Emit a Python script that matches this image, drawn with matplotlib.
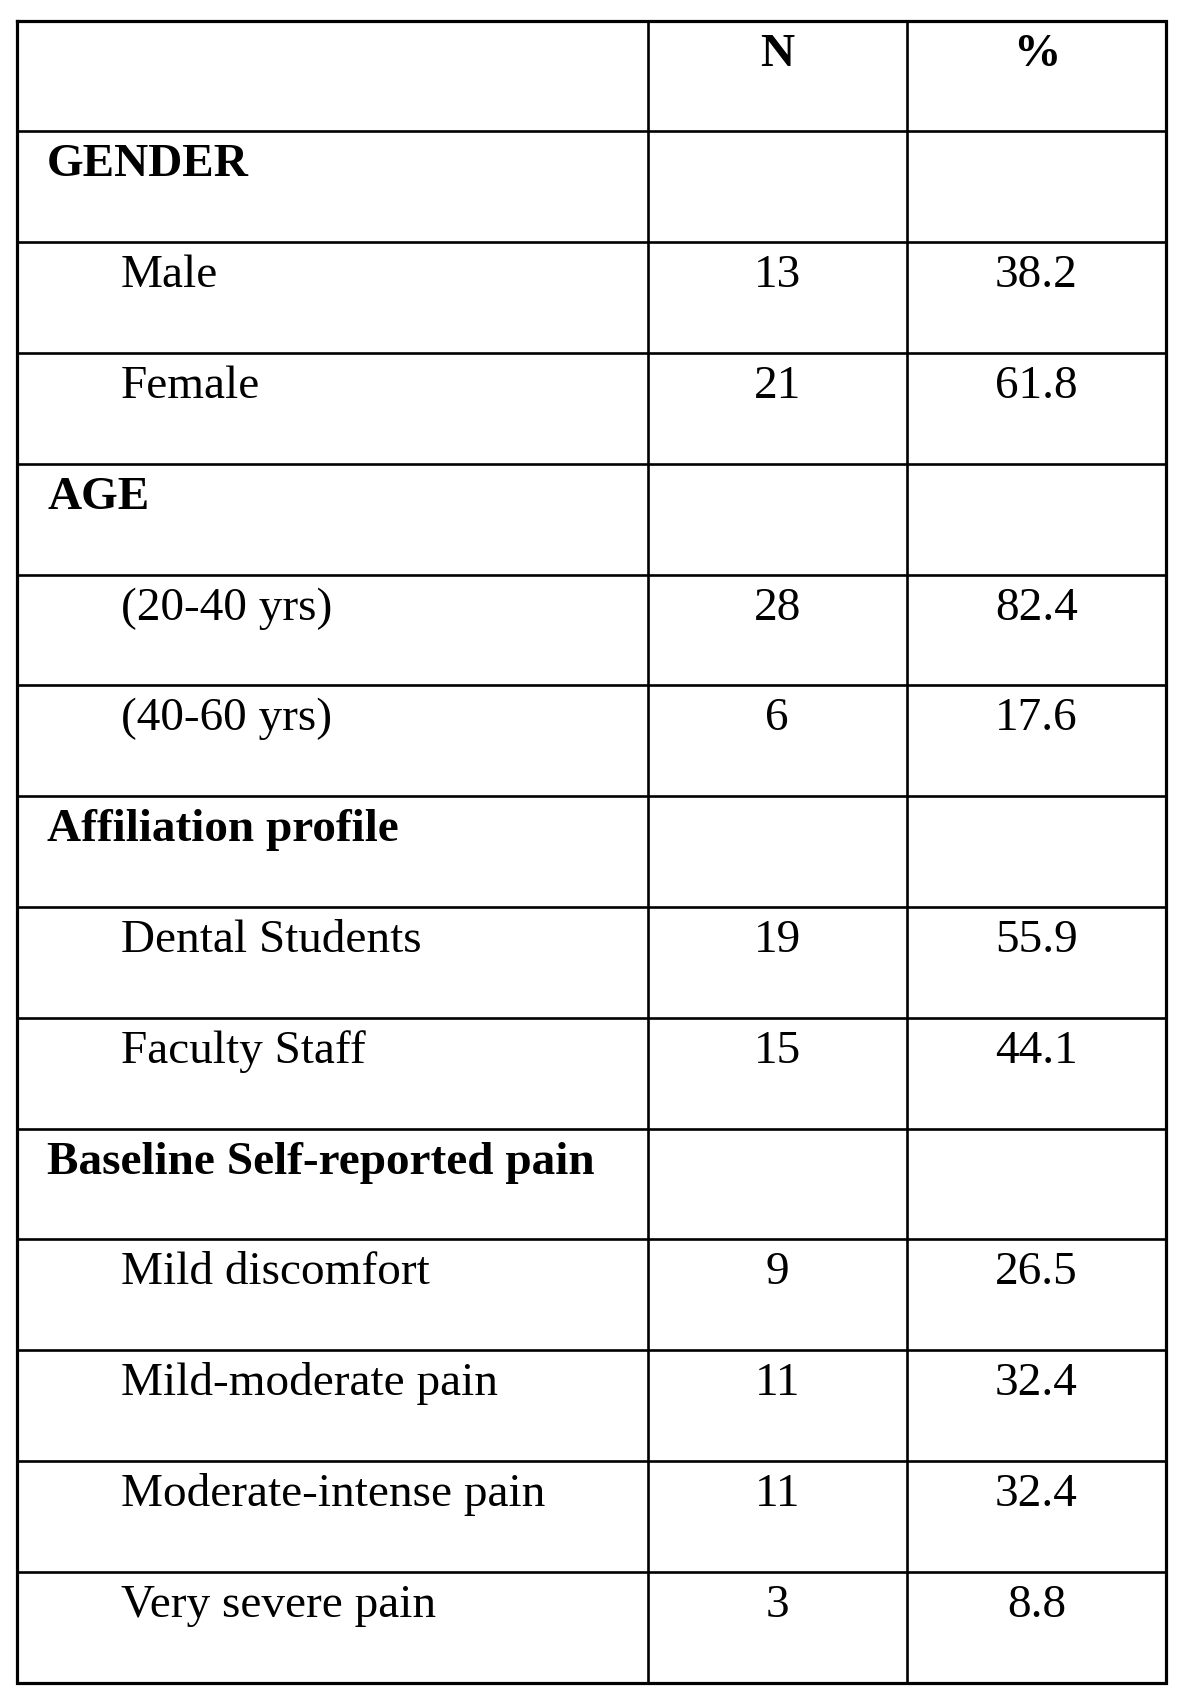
import matplotlib.pyplot as plt

labels = ['', 'GENDER', 'Male', 'Female', 'AGE', '(20-40 yrs)', '(40-60 yrs)',
          'Affiliation profile', 'Dental Students', 'Faculty Staff',
          'Baseline Self-reported pain', 'Mild discomfort', 'Mild-moderate pain',
          'Moderate-intense pain', 'Very severe pain']
n_vals = ['N', '', '13', '21', '', '28', '6', '', '19', '15', '', '9', '11', '11', '3']
pct_vals = ['%', '', '38.2', '61.8', '', '82.4', '17.6', '', '55.9', '44.1', '', '26.5', '32.4', '32.4', '8.8']
headings = ['GENDER', 'AGE', 'Affiliation profile', 'Baseline Self-reported pain']

W, H = 1200, 1702
fig = plt.figure(figsize=(W / 100, H / 100), dpi=100)
ax = fig.add_axes([0, 0, 1, 1])
ax.set_xlim(0, W)
ax.set_ylim(H, 0)
ax.axis('off')

top, bottom = 20.7, 1682.5
left, c1, c2, right = 16.7, 647.7, 906.7, 1166
nrows = len(labels)
row_h = (bottom - top) / nrows

lw = 1.9
for i in range(1, nrows):
    y = top + i * row_h
    ax.plot([left, right], [y, y], color='black', lw=lw)
for x in [c1, c2]:
    ax.plot([x, x], [top, bottom], color='black', lw=lw)
# outer border a bit heavier
ax.plot([left, right, right, left, left], [top, top, bottom, bottom, top],
        color='black', lw=2.3, solid_joinstyle='miter')

font = 'Liberation Serif'
fs = 34
for i, lab in enumerate(labels):
    yb = top + i * row_h + 45
    if lab in headings:
        ax.text(47, yb, lab, fontsize=fs, fontweight='bold', family=font, va='baseline', ha='left')
    elif lab:
        ax.text(121, yb, lab, fontsize=fs, family=font, va='baseline', ha='left')
    bold = 'bold' if i == 0 else 'normal'
    ax.text((c1 + c2) / 2, yb, n_vals[i], fontsize=fs, fontweight=bold, family=font, va='baseline', ha='center')
    ax.text((c2 + right) / 2, yb, pct_vals[i], fontsize=fs, fontweight=bold, family=font, va='baseline', ha='center')

fig.savefig('out.png', dpi=100)
